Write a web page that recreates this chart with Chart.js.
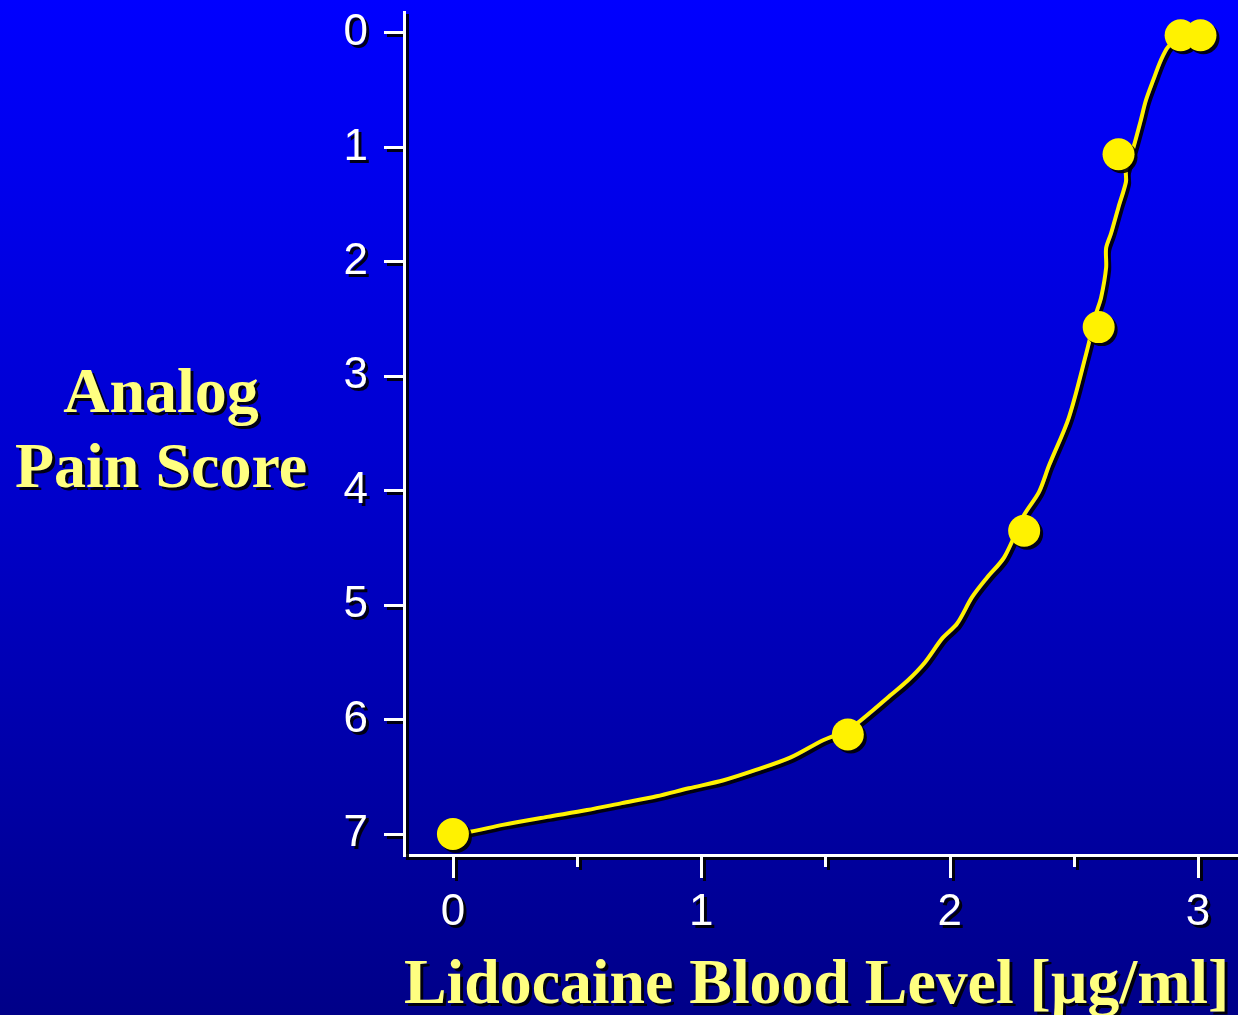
<!DOCTYPE html>
<html>
<head>
<meta charset="utf-8">
<script src="https://cdn.jsdelivr.net/npm/chart.js@4/dist/chart.umd.min.js"></script>
<style>
  html, body { margin: 0; padding: 0; }
  #wrap { width: 1238px; height: 1015px; background: linear-gradient(to bottom, #0000ff 0%, #0000d0 45%, #000088 100%); }
  canvas { display: block; }
</style>
</head>
<body>
<div id="wrap"><canvas id="c" width="1238" height="1015"></canvas></div>
<script>
// Measured data points: lidocaine blood level (µg/ml) vs analog pain score
const levels = [0, 1.59, 2.30, 2.60, 2.68, 2.93, 3.01];
const painScores = [7.0, 6.13, 4.35, 2.57, 1.06, 0.02, 0.02];

// Fitted curve
const curveLevels = [0, 0.07, 0.20, 0.38, 0.54, 0.68, 0.82, 0.95, 1.09, 1.22, 1.36, 1.49, 1.59, 1.69, 1.76, 1.83, 1.90, 1.97, 2.03, 2.09, 2.15, 2.22, 2.30, 2.36, 2.40, 2.48, 2.55, 2.59, 2.61, 2.63, 2.63, 2.65, 2.68, 2.71, 2.71, 2.74, 2.77, 2.79, 2.82, 2.85, 2.88, 2.93, 3.01];
const curveScores = [7.00, 6.98, 6.92, 6.85, 6.79, 6.73, 6.67, 6.60, 6.53, 6.44, 6.33, 6.18, 6.09, 5.92, 5.79, 5.66, 5.50, 5.29, 5.16, 4.93, 4.76, 4.58, 4.21, 4.01, 3.78, 3.36, 2.80, 2.45, 2.31, 2.05, 1.88, 1.75, 1.52, 1.30, 1.20, 1.00, 0.76, 0.59, 0.41, 0.24, 0.12, 0.04, 0.02];

const yTickValues = [0, 1, 2, 3, 4, 5, 6, 7];
const xTickValues = [0, 0.5, 1, 1.5, 2, 2.5, 3];
const xMajorTicks = [0, 1, 2, 3];
const yTitleLines = ['Analog', 'Pain Score'];
const xTitle = 'Lidocaine Blood Level [µg/ml]';

const pointData = levels.map((x, i) => ({ x, y: painScores[i] }));
const curveData = curveLevels.map((x, i) => ({ x, y: curveScores[i] }));

const YELLOW = '#fff200';
const TITLE_YELLOW = '#ffff80';

const shadowPlugin = {
  id: 'shadow',
  beforeDraw(chart) {
    const ctx = chart.ctx;
    ctx.shadowColor = 'rgba(0,0,0,0.9)';
    ctx.shadowOffsetX = 3;
    ctx.shadowOffsetY = 3;
    ctx.shadowBlur = 0;
  },
  afterDraw(chart) {
    const ctx = chart.ctx;
    const xs = chart.scales.x;
    ctx.save();
    ctx.shadowColor = 'rgba(0,0,0,0.9)';
    ctx.shadowOffsetX = 3;
    ctx.shadowOffsetY = 3;
    // x tick marks (major and minor) via the scale
    ctx.strokeStyle = '#ffffff';
    ctx.lineWidth = 3;
    const bottom = chart.chartArea.bottom;
    xTickValues.forEach(v => {
      const px = Math.round(xs.getPixelForValue(v)) + 0.5;
      const len = xMajorTicks.includes(v) ? 23 : 12;
      ctx.beginPath();
      ctx.moveTo(px, bottom);
      ctx.lineTo(px, bottom + len);
      ctx.stroke();
    });
    // horizontal y-axis title
    ctx.fillStyle = TITLE_YELLOW;
    ctx.font = 'bold 64px "Liberation Serif", "Times New Roman", serif';
    ctx.textAlign = 'center';
    ctx.textBaseline = 'alphabetic';
    ctx.fillText(yTitleLines[0], 161, 412);
    ctx.fillText(yTitleLines[1], 161, 487);
    ctx.restore();
  }
};

new Chart(document.getElementById('c'), {
  type: 'scatter',
  data: {
    datasets: [
      {
        label: 'Measured',
        data: pointData,
        showLine: false,
        pointRadius: 16,
        pointHoverRadius: 16,
        pointBackgroundColor: YELLOW,
        pointBorderColor: YELLOW,
        pointBorderWidth: 0,
        clip: false
      },
      {
        label: 'Fit',
        data: curveData,
        showLine: true,
        pointRadius: 0,
        borderColor: YELLOW,
        borderWidth: 4,
        tension: 0.3,
        fill: false,
        clip: false
      }
    ]
  },
  options: {
    responsive: false,
    animation: false,
    events: [],
    layout: { autoPadding: false, padding: { top: 12, right: 0, bottom: 0, left: 0 } },
    plugins: {
      legend: { display: false },
      tooltip: { enabled: false }
    },
    scales: {
      x: {
        type: 'linear',
        position: 'bottom',
        min: -0.197,
        max: 3.161,
        afterBuildTicks(scale) { scale.ticks = xTickValues.map(v => ({ value: v })); },
        afterFit(scale) {
          scale.height = 160;
          scale.paddingLeft = 0; scale.paddingRight = 0;
          scale.paddingTop = 0; scale.paddingBottom = 0;
        },
        grid: { display: false, drawTicks: false },
        border: { display: true, color: '#ffffff', width: 3 },
        ticks: {
          color: '#ffffff',
          font: { family: '"Liberation Sans", Arial, sans-serif', size: 44 },
          padding: 31,
          maxRotation: 0,
          autoSkip: false,
          callback: (v) => xMajorTicks.includes(v) ? String(v) : ''
        },
        title: {
          display: true,
          text: xTitle,
          align: 'start',
          color: TITLE_YELLOW,
          font: { family: '"Liberation Serif", "Times New Roman", serif', size: 63.8, weight: 'bold', lineHeight: 1 },
          padding: { top: 0, bottom: -3 }
        }
      },
      y: {
        type: 'linear',
        position: 'left',
        reverse: true,
        min: -0.1835,
        max: 7.183,
        afterBuildTicks(scale) { scale.ticks = yTickValues.map(v => ({ value: v })); },
        afterFit(scale) {
          scale.width = 404;
          scale.paddingLeft = 0; scale.paddingRight = 0;
          scale.paddingTop = 0; scale.paddingBottom = 0;
        },
        grid: { display: true, drawOnChartArea: false, drawTicks: true, tickLength: 20, color: '#ffffff', lineWidth: 3 },
        border: { display: true, color: '#ffffff', width: 3 },
        ticks: {
          color: '#ffffff',
          font: { family: '"Liberation Sans", Arial, sans-serif', size: 44 },
          padding: 16,
          autoSkip: false,
          callback: (v) => String(v)
        }
      }
    }
  },
  plugins: [shadowPlugin]
});
</script>
</body>
</html>
